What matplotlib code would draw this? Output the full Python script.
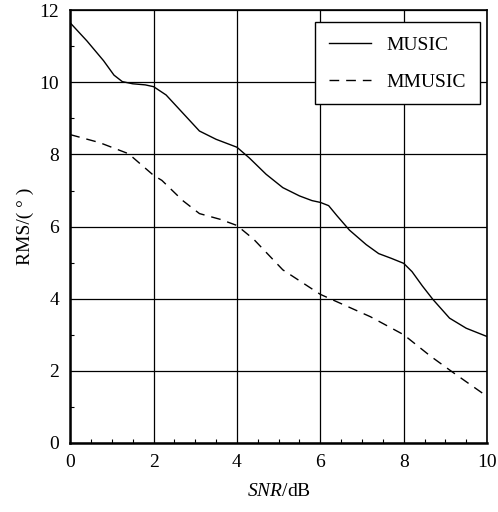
import matplotlib
matplotlib.use("Agg")
from matplotlib import pyplot as plt
from matplotlib.ticker import MultipleLocator

plt.rcParams['font.family'] = ['Liberation Serif', 'DejaVu Serif']
plt.rcParams['mathtext.fontset'] = 'custom'
plt.rcParams['mathtext.it'] = 'Liberation Serif:italic'
plt.rcParams['mathtext.rm'] = 'Liberation Serif'

# values
snr_music = [0.0, 0.4, 0.8, 1.05, 1.25, 1.5, 1.8, 2.0, 2.3, 2.7, 3.1, 3.5, 4.0, 4.3, 4.7, 5.1, 5.5, 5.8, 6.0, 6.2, 6.4, 6.7, 7.1, 7.4, 7.7, 8.0, 8.2, 8.45, 8.7, 9.1, 9.5, 10.0]
rms_music = [11.65, 11.15, 10.6, 10.2, 10.02, 9.96, 9.93, 9.88, 9.65, 9.15, 8.65, 8.42, 8.2, 7.9, 7.45, 7.08, 6.85, 6.72, 6.67, 6.58, 6.3, 5.9, 5.5, 5.25, 5.12, 4.98, 4.75, 4.35, 3.98, 3.46, 3.18, 2.95]

snr_mmusic = [0.0, 0.7, 1.4, 2.0, 2.2, 2.7, 3.1, 3.6, 4.0, 4.4, 5.1, 6.0, 7.2, 8.0, 8.65, 9.2, 9.95]
rms_mmusic = [8.55, 8.33, 8.02, 7.42, 7.28, 6.72, 6.36, 6.2, 6.03, 5.65, 4.8, 4.12, 3.5, 3.0, 2.4, 1.94, 1.33]

xticks = [0, 2, 4, 6, 8, 10]
yticks = [0, 2, 4, 6, 8, 10, 12]

fig = plt.figure(figsize=(4.98, 5.12), dpi=100)
ax = fig.add_axes([0.141, 0.135, 0.837, 0.845])

ax.plot(snr_music, rms_music, color='black', lw=1.0, label='MUSIC')
ax.plot(snr_mmusic, rms_mmusic, color='black', lw=1.0, dashes=(7, 5), label='MMUSIC')

ax.set_xlim(0, 10)
ax.set_ylim(0, 12)
ax.set_xticks(xticks)
ax.set_yticks(yticks)
ax.xaxis.set_minor_locator(MultipleLocator(0.5))
ax.yaxis.set_minor_locator(MultipleLocator(1))
ax.tick_params(which='both', direction='in', labelsize=14, length=0, pad=8)
ax.tick_params(which='minor', length=3, width=0.8)
ax.grid(True, color='black', lw=0.9)
for s in ax.spines.values():
    s.set_linewidth(1.2)
ax.spines['left'].set_linewidth(1.8)
ax.spines['bottom'].set_linewidth(1.8)

ax.set_xlabel('$SNR$/dB', fontsize=14, labelpad=9)
ax.set_ylabel('RMS/( ° )', fontsize=14, labelpad=4)

leg = ax.legend(loc='upper right', bbox_to_anchor=(0.983, 0.972), borderaxespad=0,
                fontsize=14, fancybox=False, framealpha=1, edgecolor='black',
                handlelength=2.2, labelspacing=1.0, borderpad=0.7)
leg.get_frame().set_linewidth(1.0)

fig.savefig('out.png', dpi=100)
